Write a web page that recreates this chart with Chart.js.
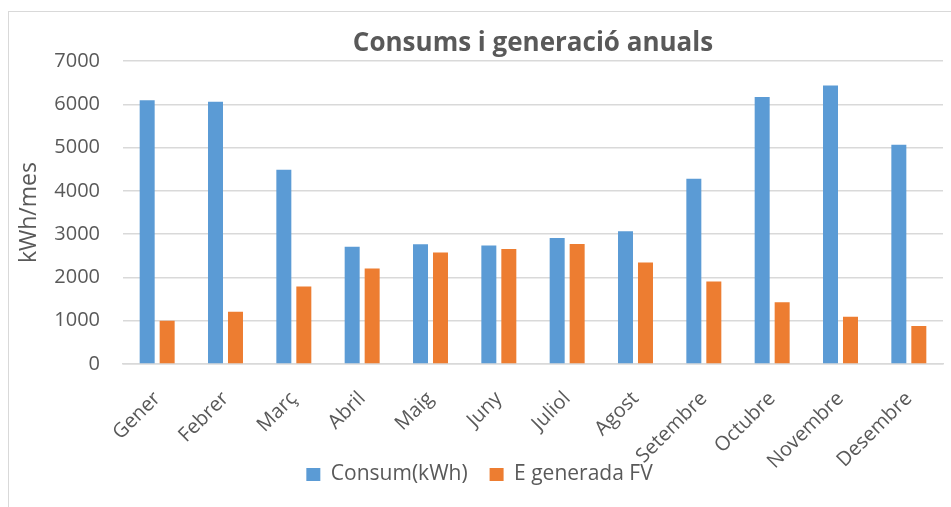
<!DOCTYPE html>
<html>
<head>
<meta charset="utf-8">
<script src="https://cdn.jsdelivr.net/npm/chart.js@4/dist/chart.umd.min.js"></script>
<style>
    body { margin: 0; background: #fff; overflow: hidden; }
    .frame { position: absolute; left: 8px; top: 11px; width: 980px; height: 540px; border: 1px solid #d9d9d9; }
    .wrap { position: absolute; left: 0; top: 0; width: 951px; height: 507px; }
</style>
</head>
<body>
<div class="frame"></div>
<div class="wrap"><canvas id="grafic" width="951" height="507"></canvas></div>
<script>
// dades llegides del gràfic
const mesos = ["Gener", "Febrer", "Març", "Abril", "Maig", "Juny", "Juliol", "Agost", "Setembre", "Octubre", "Novembre", "Desembre"]
const consum = [6100, 6060, 4490, 2710, 2770, 2740, 2915, 3070, 4280, 6170, 6440, 5070]
const generada = [1000, 1210, 1790, 2205, 2575, 2660, 2775, 2345, 1905, 1425, 1090, 880]
const yTicks = [0, 1000, 2000, 3000, 4000, 5000, 6000, 7000]

const grey = '#595959'
const font = "'Open Sans', 'Liberation Sans', sans-serif"

new Chart("grafic", {
    type: 'bar',
    data: {
        labels: mesos,
        datasets: [{
            label: "Consum(kWh)",
            data: consum,
            backgroundColor: '#5b9bd5',
            categoryPercentage: 0.585,
            barPercentage: 0.75
        }, {
            label: "E generada FV",
            data: generada,
            backgroundColor: '#ed7d31',
            categoryPercentage: 0.585,
            barPercentage: 0.75
        }]
    },
    options: {
        responsive: false,
        animation: false,
        layout: { padding: { top: 28, right: 8, bottom: 12, left: 16 } },
        plugins: {
            title: {
                display: true,
                fullSize: false,
                text: "Consums i generació anuals",
                color: grey,
                font: { family: font, size: 26, weight: 'bold' },
                padding: { top: 0, bottom: 2 }
            },
            legend: {
                position: 'bottom',
                labels: {
                    color: grey,
                    font: { family: font, size: 21 },
                    boxWidth: 14,
                    boxHeight: 13,
                    padding: 22
                }
            },
            tooltip: { enabled: false }
        },
        scales: {
            x: {
                grid: { display: false, drawTicks: false },
                border: { color: '#d9d9d9', width: 1.5 },
                ticks: {
                    color: grey,
                    font: { family: font, size: 20 },
                    minRotation: 45,
                    maxRotation: 45,
                    padding: 23
                },
                // les etiquetes girades baixen fins a la llegenda, sense retallar
                afterFit: axis => {
                    axis.height = 78
                    axis._computeLabelArea = () => null
                }
            },
            y: {
                min: yTicks[0],
                max: yTicks[yTicks.length - 1],
                afterBuildTicks: axis => {
                    axis.ticks = yTicks.map(v => ({ value: v }))
                },
                afterFit: axis => { axis.width = 107 },
                grid: { color: '#d9d9d9', lineWidth: 1.5, drawTicks: false },
                border: { display: false },
                ticks: {
                    color: grey,
                    font: { family: font, size: 20 },
                    padding: 23,
                    callback: v => String(v)
                },
                title: {
                    display: true,
                    text: "kWh/mes",
                    color: grey,
                    font: { family: font, size: 23 },
                    padding: { top: 0, bottom: 10 }
                }
            }
        }
    }
})
</script>
</body>
</html>
